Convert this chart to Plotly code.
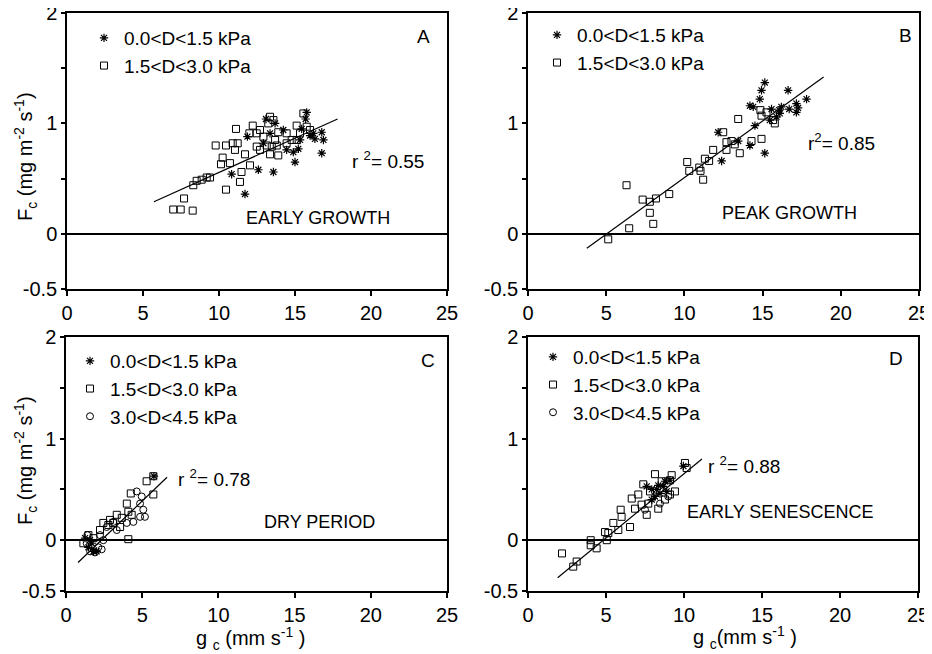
import plotly.graph_objects as go

OFF = 8  # page body margin: figure pixel = screen pixel - OFF
W, H = 932 - OFF, 654 - OFF

# ---------------- data ----------------
x_ticks = [0, 5, 10, 15, 20, 25]
y_ticks = [-0.5, 0, 1, 2]
y_tick_labels = ["-0.5", "0", "1", "2"]
y_minor_ticks = [0.5, 1.5]
legend_names = ["0.0&lt;D&lt;1.5 kPa", "1.5&lt;D&lt;3.0 kPa", "3.0&lt;D&lt;4.5 kPa"]

# Panel A - early growth
a_star = [(10.83, 0.54), (11.71, 0.36), (12.59, 0.58), (13.58, 0.56), (13.09, 1.04), (13.69, 1.00),
          (14.23, 0.94), (14.45, 0.76), (14.89, 0.74), (15.00, 0.65), (15.22, 0.77), (15.33, 0.85),
          (15.77, 1.10), (15.70, 1.04), (16.20, 0.91), (16.31, 0.86), (16.76, 0.92), (16.87, 0.85),
          (16.76, 0.73), (15.99, 0.89), (11.87, 0.88), (12.92, 0.82), (13.36, 0.91), (15.44, 0.95)]
a_square = [(6.99, 0.22), (7.48, 0.22), (8.27, 0.21), (7.70, 0.32), (8.31, 0.44), (8.53, 0.48),
            (8.86, 0.49), (9.19, 0.51), (9.41, 0.51), (9.78, 0.80), (10.46, 0.80), (10.90, 0.82),
            (11.23, 0.82), (11.12, 0.95), (10.24, 0.69), (10.13, 0.63), (10.72, 0.64), (10.46, 0.40),
            (11.38, 0.47), (11.48, 0.56), (11.71, 0.72), (11.05, 0.76), (12.04, 0.62), (12.22, 0.98),
            (12.00, 0.91), (12.48, 0.91), (12.70, 0.94), (12.92, 0.88), (13.14, 0.80), (12.48, 0.79),
            (12.70, 0.76), (13.36, 1.06), (13.58, 1.03), (13.24, 1.00), (13.90, 0.92), (13.69, 0.85),
            (13.47, 0.79), (13.80, 0.80), (13.90, 0.71), (13.36, 0.72), (14.45, 0.91), (14.78, 0.85),
            (14.45, 0.82), (15.11, 0.98), (15.55, 1.09), (15.77, 0.97), (15.33, 0.91), (15.99, 0.94),
            (15.11, 0.85)]
a_fit_x = [5.72, 17.8]
a_fit_y = [0.29, 1.04]

# Panel B - peak growth
b_star = [(12.38, 0.66), (12.16, 0.92), (13.44, 0.84), (14.19, 0.80), (14.51, 0.98), (15.14, 0.73),
          (14.19, 1.16), (14.40, 1.15), (14.82, 1.22), (14.93, 1.30), (15.14, 1.37), (15.57, 1.13),
          (15.89, 1.06), (16.10, 1.09), (16.20, 1.15), (16.63, 1.30), (16.70, 1.13), (17.16, 1.18),
          (17.27, 1.14), (17.16, 1.10), (17.81, 1.22), (15.46, 1.03), (16.06, 1.12)]
b_square = [(5.13, -0.05), (6.47, 0.05), (6.30, 0.44), (8.01, 0.09), (7.79, 0.19), (7.33, 0.31),
            (7.79, 0.29), (8.18, 0.32), (9.03, 0.36), (10.18, 0.65), (10.31, 0.57), (10.95, 0.60),
            (11.03, 0.57), (11.20, 0.49), (11.31, 0.68), (11.58, 0.66), (11.84, 0.76), (12.48, 0.92),
            (12.69, 0.83), (13.01, 0.84), (12.69, 0.76), (13.22, 0.81), (13.54, 0.73), (13.44, 1.04),
            (14.29, 0.84), (14.93, 0.86), (14.86, 1.12), (15.25, 1.10), (14.93, 1.07), (15.78, 1.00),
            (15.67, 1.03)]
b_fit_x = [3.76, 18.9]
b_fit_y = [-0.13, 1.42]

# Panel C - dry period
c_star = [(1.47, -0.07), (1.80, -0.11), (1.69, -0.03), (2.01, -0.11), (5.77, 0.63), (1.58, 0.00),
          (1.25, 0.02)]
c_square = [(1.14, -0.03), (4.09, 0.01), (5.73, 0.45), (5.29, 0.58), (5.73, 0.63), (4.25, 0.46),
            (3.99, 0.36), (4.09, 0.28), (3.66, 0.22), (2.89, 0.20), (3.10, 0.17), (2.45, 0.17),
            (3.55, 0.13), (4.31, 0.25), (2.23, 0.10), (3.33, 0.25), (1.80, 0.02), (1.47, 0.05),
            (2.78, 0.15)]
c_circle = [(1.40, 0.05), (2.23, 0.05), (2.12, -0.07), (2.34, -0.09), (1.90, -0.12), (1.58, -0.11),
            (4.64, 0.48), (4.97, 0.43), (5.07, 0.30), (4.86, 0.23), (5.18, 0.23), (4.42, 0.18),
            (4.86, 0.36), (3.33, 0.10), (2.67, 0.13), (3.99, 0.17), (2.45, 0.00), (3.10, 0.18),
            (1.36, -0.03)]
c_fit_x = [0.79, 6.63]
c_fit_y = [-0.22, 0.62]

# Panel D - early senescence
d_star = [(8.25, 0.50), (8.46, 0.46), (8.67, 0.53), (8.14, 0.43), (8.89, 0.48), (8.35, 0.54),
          (7.93, 0.40), (8.78, 0.58), (9.10, 0.59), (7.61, 0.53), (7.93, 0.50), (9.96, 0.73)]
d_square = [(2.18, -0.13), (2.90, -0.26), (3.12, -0.21), (4.02, 0.00), (4.02, -0.05), (4.40, -0.08),
            (4.94, 0.08), (5.15, 0.07), (5.05, 0.00), (5.47, 0.17), (5.79, 0.10), (6.00, 0.23),
            (5.94, 0.30), (6.54, 0.13), (6.65, 0.41), (7.07, 0.45), (7.39, 0.55), (8.14, 0.65),
            (7.61, 0.25), (7.71, 0.36), (8.35, 0.31), (9.10, 0.45), (9.10, 0.59), (9.42, 0.48),
            (9.21, 0.64), (10.06, 0.76), (10.17, 0.71), (8.57, 0.58), (8.78, 0.40), (7.82, 0.48),
            (6.86, 0.31), (7.28, 0.35)]
d_circle = [(7.50, 0.30), (8.46, 0.36), (8.99, 0.43)]
d_fit_x = [1.9, 11.15]
d_fit_y = [-0.37, 0.80]

# ---------------- figure ----------------
FONT = "Liberation Sans, Arial, Helvetica, sans-serif"
fig = go.Figure()

STAR = dict(symbol="asterisk-open", size=7, color="black", line=dict(width=1.2, color="black"))
SQUARE = dict(symbol="square-open", size=7, color="black", line=dict(width=1, color="black"))
CIRCLE = dict(symbol="circle-open", size=7, color="black", line=dict(width=1, color="black"))

panels = [
    ("", "legend", [(a_star, STAR, 0), (a_square, SQUARE, 1)], (a_fit_x, a_fit_y)),
    ("2", "legend2", [(b_star, STAR, 0), (b_square, SQUARE, 1)], (b_fit_x, b_fit_y)),
    ("3", "legend3", [(c_star, STAR, 0), (c_square, SQUARE, 1), (c_circle, CIRCLE, 2)], (c_fit_x, c_fit_y)),
    ("4", "legend4", [(d_star, STAR, 0), (d_square, SQUARE, 1), (d_circle, CIRCLE, 2)], (d_fit_x, d_fit_y)),
]

for suf, leg, series, fit in panels:
    xa, ya = "x" + suf, "y" + suf
    fig.add_trace(go.Scatter(x=fit[0], y=fit[1], mode="lines", line=dict(color="black", width=1.2),
                             xaxis=xa, yaxis=ya, showlegend=False, hoverinfo="skip"))
    for pts, mk, ni in series:
        fig.add_trace(go.Scatter(x=[p[0] for p in pts], y=[p[1] for p in pts], mode="markers",
                                 marker=mk, name=legend_names[ni], xaxis=xa, yaxis=ya,
                                 legend=leg, showlegend=True))


def fx(px):
    return (px - OFF) / W


def fy(py):
    return 1 - (py - OFF) / H


# domains in screen pixels (left, right, top, bottom)
dom = {
    "": (67, 447, 13, 289),
    "2": (528, 919, 13, 289),
    "3": (66, 447, 337, 591),
    "4": (528, 918, 337, 591),
}

layout = dict(
    template="none",
    width=W, height=H, margin=dict(l=0, r=0, t=0, b=0, pad=0),
    paper_bgcolor="white", plot_bgcolor="white",
    font=dict(family=FONT, size=20, color="black"),
    showlegend=True,
)
for suf, (l, r, t, b) in dom.items():
    layout["xaxis" + suf] = dict(
        domain=[fx(l), fx(r)], anchor="y" + suf, range=[0, 25],
        tickmode="array", tickvals=x_ticks, automargin=False, ticklabeloverflow="allow",
        showline=True, linecolor="black", linewidth=1.5, mirror=True,
        ticks="outside", ticklen=5, tickwidth=1.5, tickcolor="black",
        showgrid=False, zeroline=False, tickfont=dict(size=20, color="black"), fixedrange=True)
    layout["yaxis" + suf] = dict(
        domain=[fy(b), fy(t)], anchor="x" + suf, range=[-0.5, 2],
        tickmode="array", tickvals=y_ticks, ticktext=y_tick_labels,
        automargin=False, ticklabeloverflow="allow",
        minor=dict(tickmode="array", tickvals=y_minor_ticks, ticks="outside", ticklen=4,
                   tickwidth=1.5, tickcolor="black", showgrid=False),
        showline=True, linecolor="black", linewidth=1.5, mirror=True,
        ticks="outside", ticklen=4, tickwidth=1.5, tickcolor="black",
        showgrid=False, zeroline=True, zerolinecolor="black", zerolinewidth=1.5,
        tickfont=dict(size=20, color="black"), fixedrange=True)

legpos = {"legend": (84, 19), "legend2": (537, 16), "legend3": (70, 342), "legend4": (533, 338)}
for name, (lx, ly) in legpos.items():
    layout[name] = dict(x=fx(lx), y=fy(ly), xanchor="left", yanchor="top",
                        bgcolor="rgba(0,0,0,0)", borderwidth=0,
                        font=dict(size=19, family=FONT, color="black"),
                        itemwidth=30, tracegroupgap=0)


def ann(text, px, py, size=19, xanchor="left", angle=0):
    return dict(text=text, x=fx(px), y=fy(py), xref="paper", yref="paper",
                xanchor=xanchor, yanchor="middle", showarrow=False, textangle=angle,
                font=dict(size=size, family=FONT, color="black"))


layout["annotations"] = [
    ann("A", 423, 37, 19, "center"),
    ann("B", 905, 35, 19, "center"),
    ann("C", 428, 360, 19, "center"),
    ann("D", 896, 358, 19, "center"),
    ann("EARLY GROWTH", 244, 218, 18),
    ann("PEAK GROWTH", 720, 213, 18),
    ann("DRY PERIOD", 262, 522, 18),
    ann("EARLY SENESCENCE", 685, 512, 18),
    ann("r <sup>2</sup>= 0.55", 350, 160, 19),
    ann("r<sup>2</sup>= 0.85", 806, 142, 19),
    ann("r <sup>2</sup>= 0.78", 176, 478, 19),
    ann("r <sup>2</sup>= 0.88", 706, 465, 19),
    ann("F<sub>c</sub> (mg m<sup>-2</sup> s<sup>-1</sup>)", 25, 157, 20, "center", -90),
    ann("F<sub>c</sub> (mg m<sup>-2</sup> s<sup>-1</sup>)", 25, 461, 20, "center", -90),
    ann("g <sub>c</sub> (mm s<sup>-1</sup> )", 250, 638, 20, "center"),
    ann("g <sub>c</sub>(mm s<sup>-1</sup> )", 745, 637, 20, "center"),
]

fig.update_layout(**layout)
fig.write_html("out.html")
